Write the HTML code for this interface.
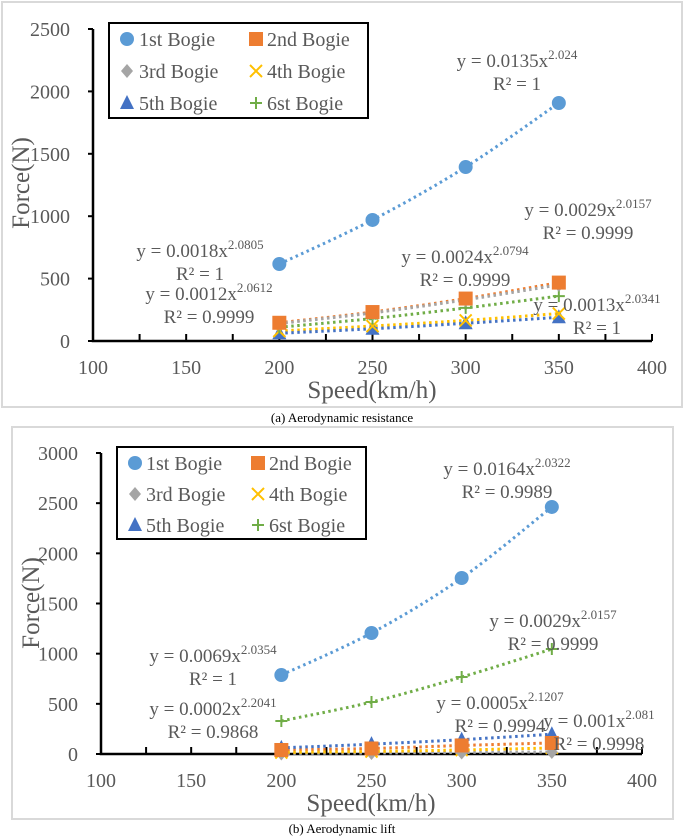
<!DOCTYPE html>
<html><head><meta charset="utf-8"><style>
body{margin:0;background:#fff;width:685px;height:837px;overflow:hidden}
svg{display:block}
text{font-family:"Liberation Serif",serif}
</style></head><body>
<svg id="s" width="685" height="837">
<rect x="2" y="2" width="680" height="405" fill="#fff" stroke="#d9d9d9" stroke-width="2"/>
<text x="342" y="422" font-size="13" text-anchor="middle" fill="#000">(a) Aerodynamic resistance</text>
<rect x="12" y="427" width="661" height="392" fill="#fff" stroke="#d9d9d9" stroke-width="2"/>
<text x="342" y="833" font-size="13" text-anchor="middle" fill="#000">(b) Aerodynamic lift</text>
</svg>
<script>
const speeds=[200,250,300,350];
const seriesNames=["1st Bogie","2nd Bogie","3rd Bogie","4th Bogie","5th Bogie","6st Bogie"];
const xTicks=[100,150,200,250,300,350,400];
const yTicksA=[0,500,1000,1500,2000,2500];
const yTicksB=[0,500,1000,1500,2000,2500,3000];
const resA1=[617,970,1394,1907];
const resA2=[146,232,340,468];
const resA3=[140,225,330,450];
const resA4=[80,120,165,220];
const resA5=[62,98,142,190];
const resA6=[110,180,265,360];
const liftB1=[787,1206,1754,2462];
const liftB2=[40,55,85,110];
const liftB3=[5,10,15,20];
const liftB4=[15,25,40,60];
const liftB5=[61,98,143,197];
const liftB6=[329,518,767,1046];
const eqA=[["y = 0.0135x","2.024","R² = 1",517,60],["y = 0.0029x","2.0157","R² = 0.9999",588,209],["y = 0.0018x","2.0805","R² = 1",200,250],["y = 0.0024x","2.0794","R² = 0.9999",465,256],["y = 0.0012x","2.0612","R² = 0.9999",209,293],["y = 0.0013x","2.0341","R² = 1",597,304]];
const eqB=[["y = 0.0164x","2.0322","R² = 0.9989",507,468],["y = 0.0029x","2.0157","R² = 0.9999",553,620],["y = 0.0069x","2.0354","R² = 1",213,655],["y = 0.0002x","2.2041","R² = 0.9868",213,708],["y = 0.0005x","2.1207","R² = 0.9994",500,702],["y = 0.001x","2.081","R² = 0.9998",599,720]];

const colors=["#5B9BD5","#ED7D31","#A5A5A5","#FFC000","#4472C4","#70AD47"];
const NS="http://www.w3.org/2000/svg";
const svg=document.getElementById('s');
function mk(t,a,p){const e=document.createElementNS(NS,t);for(const k in a)e.setAttribute(k,a[k]);(p||svg).appendChild(e);return e;}
function marker(g,i,cx,cy){
 let e;
 if(i===0)e=mk('circle',{cx,cy,r:7,fill:colors[0]},g);
 else if(i===1)e=mk('rect',{x:cx-7,y:cy-7,width:14,height:14,fill:colors[1]},g);
 else if(i===2)e=mk('path',{d:`M${cx} ${cy-7}L${cx+6} ${cy}L${cx} ${cy+7}L${cx-6} ${cy}Z`,fill:colors[2]},g);
 else if(i===3)e=mk('path',{d:`M${cx-6} ${cy-6}L${cx+6} ${cy+6}M${cx+6} ${cy-6}L${cx-6} ${cy+6}`,stroke:colors[3],'stroke-width':2},g);
 else if(i===4)e=mk('path',{d:`M${cx} ${cy-8}L${cx+7} ${cy+6}L${cx-7} ${cy+6}Z`,fill:colors[4]},g);
 else e=mk('path',{d:`M${cx-6} ${cy}L${cx+6} ${cy}M${cx} ${cy-6}L${cx} ${cy+6}`,stroke:colors[5],'stroke-width':2},g);
 return e;
}
function chart(cfg){
 const g=mk('g',{});
 
 
 const X=v=>cfg.x0+(v-100)/300*(cfg.x1-cfg.x0);
 const Y=v=>cfg.y0-v/cfg.ymax*(cfg.y0-cfg.y1);
 // axes
 const ax=mk('path',{d:`M${cfg.x0} ${cfg.y1}L${cfg.x0} ${cfg.y0}L${cfg.x1} ${cfg.y0}`,fill:'none',stroke:'#000','stroke-width':2.5},g);
 
 
 for(let v=125;v<=400;v+=25){mk('line',{x1:X(v),x2:X(v),y1:cfg.y0,y2:cfg.y0-7,stroke:'#000','stroke-width':2},g);}
 xTicks.forEach(v=>{const t=mk('text',{x:X(v),y:cfg.xly,'font-size':20,'text-anchor':'middle',fill:'#595959'},g);t.textContent=v;
  
  });
 cfg.yt.forEach(v=>{mk('line',{x1:cfg.x0-5,x2:cfg.x0,y1:Y(v),y2:Y(v),stroke:'#000','stroke-width':2},g);
  const t=mk('text',{x:cfg.ylx,y:Y(v)+7,'font-size':20,'text-anchor':'end',fill:'#595959'},g);t.textContent=v;
  
  });
 const xt=mk('text',{x:cfg.xtx,y:cfg.xty+8,'font-size':25,'text-anchor':'middle',fill:'#595959'},g);xt.textContent='Speed(km/h)';
 
 
 const yt=mk('text',{x:0,y:0,'font-size':25,'text-anchor':'middle',fill:'#595959',transform:`translate(${cfg.ytx+8},${cfg.yty}) rotate(-90)`},g);yt.textContent='Force(N)';
 
 
 // series
 cfg.data.forEach((d,i)=>{
  const pts=d.map((v,j)=>[X(speeds[j]),Y(v)]);
  let p=`M${pts[0][0]} ${pts[0][1]}`;
  for(let j=0;j<pts.length-1;j++){
   const p0=pts[Math.max(j-1,0)],p1=pts[j],p2=pts[j+1],p3=pts[Math.min(j+2,pts.length-1)];
   p+=`C${p1[0]+(p2[0]-p0[0])/6} ${p1[1]+(p2[1]-p0[1])/6} ${p2[0]-(p3[0]-p1[0])/6} ${p2[1]-(p3[1]-p1[1])/6} ${p2[0]} ${p2[1]}`;
  }
  const tl=mk('path',{d:p,fill:'none',stroke:colors[i],'stroke-width':3,'stroke-dasharray':'2.5 3.5'},g);
  
  
 });
 [4,3,5,2,1,0].forEach(i=>{cfg.data[i].forEach((v,j)=>{
  const m=marker(g,i,X(speeds[j]),Y(v));
  
  
 });});
 // equations
 cfg.eq.forEach(e=>{
  const t=mk('text',{x:e[3],y:e[4]+7,'font-size':19,'text-anchor':'middle',fill:'#595959'},g);
  const a=mk('tspan',{},t);a.textContent=e[0];
  const b=mk('tspan',{'font-size':13,dy:-8},t);b.textContent=e[1];
  
  
  const r=mk('text',{x:e[3],y:e[4]+30,'font-size':19,'text-anchor':'middle',fill:'#595959'},g);r.textContent=e[2];
  
  
 });
 // legend
 const L=cfg.leg;
 const lb=mk('rect',{x:L.x,y:L.y,width:L.w,height:L.h,fill:'#fff',stroke:'#000','stroke-width':2},g);
 
 
 seriesNames.forEach((n,i)=>{
  const col=i%2,row=Math.floor(i/2);
  const mx=col?L.m2:L.m1, tx=col?L.t2:L.t1, ry=L.rows[row];
  marker(g,i,mx,ry);
  const t=mk('text',{x:tx,y:ry+7,'font-size':20,fill:'#595959'},g);t.textContent=n;
  
  
 });
}
chart({name:'chart-aerodynamic-resistance',x0:93,x1:652,y0:341,y1:29,ymax:2500,yt:yTicksA,xly:374,ylx:70,xtx:372,xty:390,ytx:21,yty:183,
 data:[resA1,resA2,resA3,resA4,resA5,resA6],eq:eqA,
 leg:{x:109,y:23,w:259,h:95,m1:127,t1:139,m2:256,t2:267,rows:[39,71,103]}});
chart({name:'chart-aerodynamic-lift',x0:101,x1:642,y0:754,y1:453,ymax:3000,yt:yTicksB,xly:787,ylx:78,xtx:371,xty:803,ytx:31,yty:603,
 data:[liftB1,liftB2,liftB3,liftB4,liftB5,liftB6],eq:eqB,
 leg:{x:117,y:447,w:249,h:92,m1:135,t1:146,m2:258,t2:269,rows:[463,494,525]}});
</script>
</body></html>
